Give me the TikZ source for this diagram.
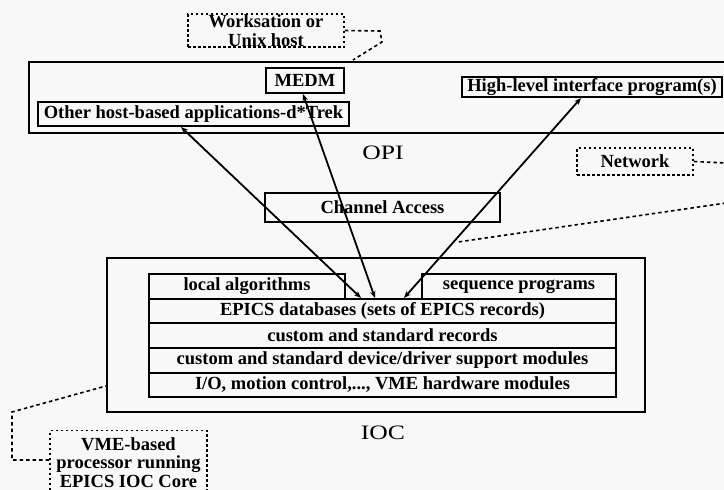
\documentclass[tikz,border=0pt]{standalone}
\usepackage{fontspec}
\setmainfont{Liberation Serif}
\usetikzlibrary{arrows.meta}
\definecolor{bgc}{RGB}{247,248,247}
\begin{document}
\begin{tikzpicture}[x=1pt,y=-1pt,
  box/.style={draw, line width=2pt, inner sep=0pt, align=center,
    font=\bfseries\fontsize{18.5}{19}\selectfont},
  frame/.style={draw, line width=2.3pt, inner sep=0pt},
  dbox/.style={draw, line width=1.6pt, dash pattern=on 2.5pt off 2.5pt, inner sep=0pt, align=center,
    font=\bfseries\fontsize{18.5}{18.5}\selectfont},
  dline/.style={line width=1.6pt, dash pattern=on 3.5pt off 3pt},
  arr/.style={line width=1.8pt, {Stealth[length=7pt,width=5.5pt]}-{Stealth[length=7pt,width=5.5pt]}},
  biglabel/.style={inner sep=0pt, font=\fontsize{20.5}{20.5}\selectfont}
]
\useasboundingbox (0,0) rectangle (724,490);
\fill[bgc] (0,0) rectangle (724,490);
\clip (0,0) rectangle (724,490);

% OPI host
\node[frame, minimum width=701pt, minimum height=71pt] (opi) at (379.5,97.5) {};
\node[box, minimum width=78pt, minimum height=25pt] (medm) at (305,80.5) {MEDM};
\node[box, minimum width=311pt, minimum height=24pt] (other) at (193.5,114) {Other host-based applications-d*Trek};
\node[box, minimum width=260pt, minimum height=20pt] (high) at (592,87) {High-level interface program(s)};
\node[biglabel] (opil) at (383,153) {\scalebox{1.25}[1]{OPI}};

% labels
\node[dbox, minimum width=156pt, minimum height=33pt] (ws) at (266,30.5) {Worksation or\\Unix host};
\node[dbox, minimum width=116pt, minimum height=27pt] (net) at (635,161.5) {Network};
\node[box, minimum width=235pt, minimum height=29pt] (ca) at (382.5,207.5) {Channel Access};

% IOC
\node[frame, minimum width=538pt, minimum height=154pt] (ioc) at (376,335) {};
\node[box, minimum width=196pt, minimum height=25pt] (la) at (247,286.5) {local algorithms};
\node[box, minimum width=194pt, minimum height=25pt] (sp) at (519,286.5) {sequence programs};
\node[box, minimum width=467pt, minimum height=24pt] (db) at (382.5,311) {EPICS databases (sets of EPICS records)};
\node[box, minimum width=467pt, minimum height=25pt] (rec) at (382.5,335.5) {custom and standard records};
\node[box, minimum width=467pt, minimum height=25pt] (dev) at (382.5,360.5) {custom and standard device/driver support modules};
\node[box, minimum width=467pt, minimum height=24pt] (io) at (382.5,385) {I/O, motion control,..., VME hardware modules};
\node[biglabel] (iocl) at (383,433) {\scalebox{1.25}[1]{IOC}};

\node[dbox, minimum width=157pt, minimum height=64pt] (vme) at (128.5,462.5)
  {VME-based\\processor running\\EPICS IOC Core};

% arrows
\draw[arr] ([xshift=144pt]other.south west) -- ([xshift=213pt]db.north west);
\draw[arr] ([xshift=-2pt]medm.south) -- ([xshift=227pt]db.north west);
\draw[arr] ([xshift=120pt]high.south west) -- ([xshift=256pt]db.north west);

% dashed connectors
\coordinate (wsa) at (380,31);
\coordinate (wsb) at (382,42);
\coordinate (wsc) at (353,60);
\draw[dline] (ws.east) -- (wsa) -- (wsb) -- (wsc);
\coordinate (neta) at (726,163);
\draw[dline] (net.east) -- (neta);
\coordinate (netb) at (726,203);
\coordinate (netc) at (458,242);
\draw[dline] (netb) -- (netc);
\coordinate (va) at (12,460);
\coordinate (vb) at (12,412);
\draw[dline] ([yshift=2.5pt]vme.west) -- (va) -- (vb) -- ([yshift=-51pt]ioc.west);
\end{tikzpicture}
\end{document}
